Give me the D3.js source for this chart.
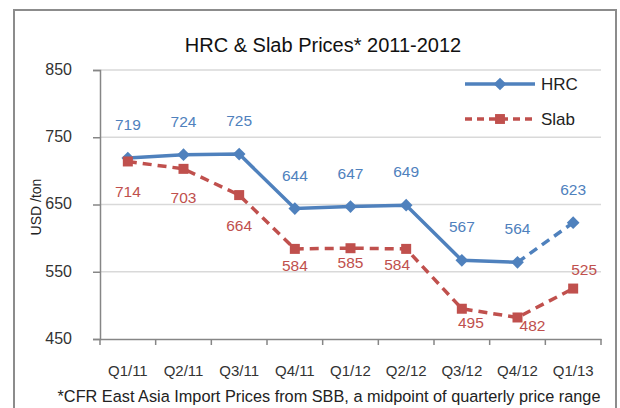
<!DOCTYPE html>
<html>
<head>
<meta charset="utf-8">
<title>HRC & Slab Prices</title>
<script src="https://cdn.jsdelivr.net/npm/d3@7"></script>
<style>
  body { margin: 0; background: #fff; }
  text { font-family: "Liberation Sans", Arial, sans-serif; }
</style>
</head>
<body>
<script>
// data
var quarters = ["Q1/11","Q2/11","Q3/11","Q4/11","Q1/12","Q2/12","Q3/12","Q4/12","Q1/13"];
var hrc  = [719, 724, 725, 644, 647, 649, 567, 564, 623];
var slab = [714, 703, 664, 584, 585, 584, 495, 482, 525];
var yTicks = [450, 550, 650, 750, 850];

// label nudges (dx, dy) for the slab values, they move around in the original
var slabNudge = [[0,30],[0,29],[0,30],[0,17],[0,14],[-9,16],[9,14],[15,8],[11,-19]];

var width = 620, height = 408;
var blue = "#4F81BD", red = "#C0504D";

var svg = d3.select("body").append("svg").attr("width", width).attr("height", height);

// outer frame
svg.append("rect")
   .attr("x", 14).attr("y", 10).attr("width", 602).attr("height", 420)
   .attr("fill", "none").attr("stroke", "#8c8c8c").attr("stroke-width", 2);

var x = d3.scaleBand().domain(quarters).range([100, 601]);
var y = d3.scaleLinear().domain([450, 850]).range([339, 70]);
var cx = function(d, i){ return x(quarters[i]) + x.bandwidth()/2; };

// gridlines
svg.selectAll(".grid").data(yTicks.slice(1)).enter().append("line")
   .attr("x1", 100).attr("x2", 601)
   .attr("y1", function(d){ return y(d); }).attr("y2", function(d){ return y(d); })
   .attr("stroke", "#d9d9d9").attr("stroke-width", 1.5);

// axes
var yAxis = svg.append("g").attr("transform", "translate(100,0)")
   .call(d3.axisLeft(y).tickValues(yTicks).tickSize(7).tickPadding(28));
var xAxis = svg.append("g").attr("transform", "translate(0,339)")
   .call(d3.axisBottom(x).tickSize(0).tickPadding(26));
// category boundary ticks like excel
xAxis.selectAll(".bnd").data(d3.range(quarters.length + 1)).enter().append("line")
   .attr("x1", function(i){ return 100 + i * x.bandwidth(); })
   .attr("x2", function(i){ return 100 + i * x.bandwidth(); })
   .attr("y1", 0).attr("y2", 6)
   .attr("stroke", "#868686").attr("stroke-width", 1.5);

[yAxis, xAxis].forEach(function(a){
  a.select(".domain").attr("stroke", "#868686").attr("stroke-width", 1.5);
  a.selectAll(".tick line").attr("stroke", "#868686").attr("stroke-width", 1.5);
  a.selectAll(".tick text").attr("fill", "#333").style("font-size", "16px")
   .style("font-family", "'Liberation Sans', Arial, sans-serif");
});
yAxis.selectAll(".tick text").attr("text-anchor", "end").attr("x", -28).attr("dy", "0.28em");
xAxis.selectAll(".tick text").style("font-size", "15px");

// title & axis title
svg.append("text").attr("x", 323).attr("y", 52).attr("text-anchor", "middle")
   .style("font-size", "20px").attr("fill", "#111").text("HRC & Slab Prices* 2011-2012");
svg.append("text").attr("transform", "translate(41,207) rotate(-90)").attr("text-anchor", "middle")
   .style("font-size", "14px").attr("fill", "#222").text("USD /ton");
svg.append("text").attr("x", 329).attr("y", 402).attr("text-anchor", "middle")
   .style("font-size", "16.3px").attr("fill", "#222")
   .text("*CFR East Asia Import Prices from SBB, a midpoint of quarterly price range");

var line = d3.line().x(cx).y(function(d){ return y(d); });

// HRC: solid, last leg dashed
svg.append("path").datum(hrc.slice(0, 8))
   .attr("d", line).attr("fill", "none").attr("stroke", blue).attr("stroke-width", 3.5);
svg.append("path").datum(hrc)
   .attr("d", function(d){
     var p = d.map(function(v, i){ return [cx(v, i), y(v)]; }).slice(7);
     return d3.line()(p);
   })
   .attr("fill", "none").attr("stroke", blue).attr("stroke-width", 3.5).attr("stroke-dasharray", "9,6");

// Slab dashed
svg.append("path").datum(slab)
   .attr("d", line).attr("fill", "none").attr("stroke", red).attr("stroke-width", 3.5)
   .attr("stroke-dasharray", "9,6");

svg.selectAll(".hrcpt").data(hrc).enter().append("rect")
   .attr("x", -4.5).attr("y", -4.5).attr("width", 9).attr("height", 9)
   .attr("transform", function(d, i){ return "translate(" + cx(d, i) + "," + y(d) + ") rotate(45)"; })
   .attr("fill", blue);
svg.selectAll(".slabpt").data(slab).enter().append("rect")
   .attr("x", function(d, i){ return cx(d, i) - 5; }).attr("y", function(d){ return y(d) - 5; })
   .attr("width", 10).attr("height", 10).attr("fill", red);

// data labels
svg.selectAll(".hrclab").data(hrc).enter().append("text")
   .attr("x", cx).attr("y", function(d){ return y(d) - 28; })
   .attr("text-anchor", "middle").style("font-size", "15.5px").attr("fill", blue)
   .text(function(d){ return d; });
svg.selectAll(".slablab").data(slab).enter().append("text")
   .attr("x", function(d, i){ return cx(d, i) + slabNudge[i][0]; })
   .attr("y", function(d, i){ return y(d) + slabNudge[i][1] + 5.5; })
   .attr("text-anchor", "middle").style("font-size", "15.5px").attr("fill", red)
   .text(function(d){ return d; });

// legend
var legend = [["HRC", blue, null], ["Slab", red, "7,5"]];
var lg = svg.selectAll(".lg").data(legend).enter().append("g")
   .attr("transform", function(d, i){ return "translate(0," + (84 + i * 35) + ")"; });
lg.append("line").attr("x1", 465).attr("x2", 535)
   .attr("stroke", function(d){ return d[1]; }).attr("stroke-width", 3.5)
   .attr("stroke-dasharray", function(d){ return d[2]; });
lg.append("rect")
   .attr("x", -4.5).attr("y", -4.5).attr("width", 9).attr("height", 9)
   .attr("transform", function(d, i){ return i === 0 ? "translate(500,0) rotate(45)" : "translate(500,0) scale(1.1)"; })
   .attr("fill", function(d){ return d[1]; });
lg.append("text").attr("x", 541).attr("y", 6).style("font-size", "17px").attr("fill", "#222")
   .text(function(d){ return d[0]; });
</script>
</body>
</html>
